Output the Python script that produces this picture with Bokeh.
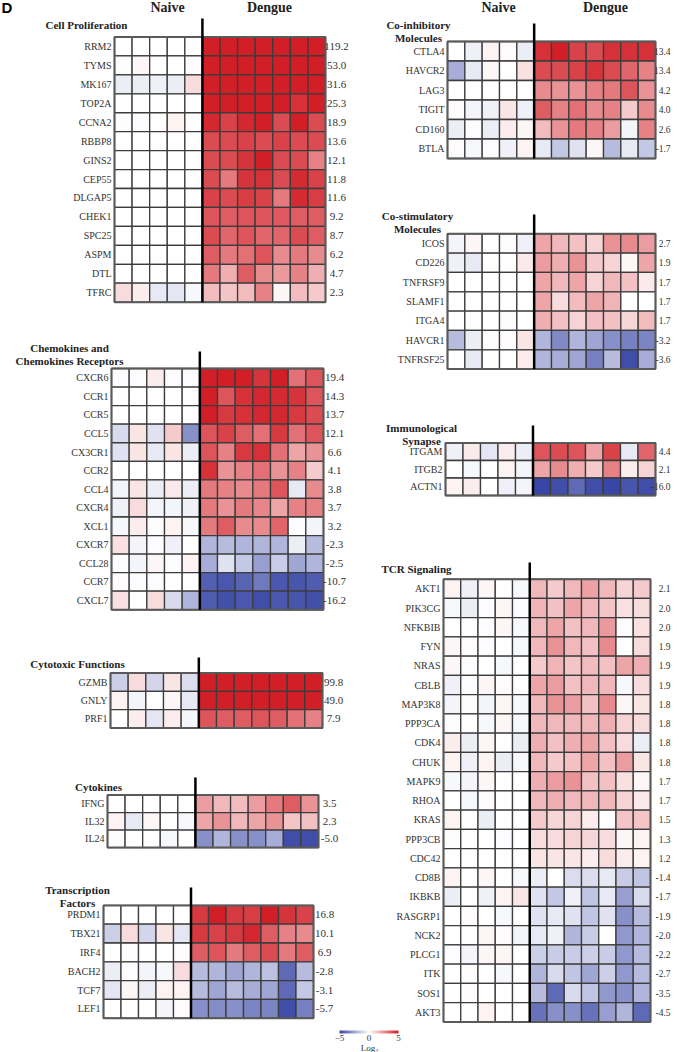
import numpy as np
from bokeh.plotting import figure
from bokeh.models import Range1d, LinearColorMapper, ColorBar, FixedTicker, ColumnDataSource
from bokeh.core.properties import value
from bokeh.embed import file_html
from bokeh.resources import INLINE

# ---------------- DATA ----------------
# each row: 5 naive samples then 7 dengue samples (log2, colour clipped to +-5)
prolif_genes = ["RRM2", "TYMS", "MK167", "TOP2A", "CCNA2", "RBBP8", "GINS2", "CEP55",
                "DLGAP5", "CHEK1", "SPC25", "ASPM", "DTL", "TFRC"]
prolif_fc = [119.2, 53.0, 31.6, 25.3, 18.9, 13.6, 12.1, 11.8, 11.6, 9.2, 8.7, 6.2, 4.7, 2.3]
prolif_vals = [
    [0, 0, 0, 0, 0, 5, 5, 5, 5, 5, 5, 5],
    [-0.1, 0.2, 0, 0, -0.1, 5, 5, 5, 5, 5, 5, 5],
    [-0.5, -0.5, -0.4, -0.5, 0.8, 5, 5, 5, 5, 5, 5, 5],
    [0, 0, 0, 0, 0, 5, 5, 5, 5, 5, 4.6, 5],
    [-0.1, -0.1, 0, 0.3, 0, 4.8, 4.2, 4.8, 5, 4.0, 5, 4.0],
    [0, 0, 0, 0, 0, 4.0, 4.0, 4.2, 4.0, 4.2, 4.0, 4.0],
    [0, 0, 0, 0, 0, 4.0, 4.0, 4.5, 5, 4.0, 4.0, 2.8],
    [0, 0, 0, 0, 0, 4.0, 3.0, 4.5, 4.6, 4.0, 4.7, 4.2],
    [0, 0, 0, 0, 0, 4.2, 4.0, 4.3, 4.2, 3.0, 4.7, 4.3],
    [0, 0, 0, 0, 0, 3.8, 3.6, 3.8, 3.8, 3.7, 3.6, 3.6],
    [0, 0, 0, 0, 0, 4.0, 3.4, 3.8, 3.4, 3.4, 4.0, 3.6],
    [0, 0, 0, 0, 0, 3.6, 3.0, 3.2, 3.8, 2.6, 3.0, 2.6],
    [0, 0, 0, 0, 0, 3.0, 1.8, 3.6, 2.6, 2.3, 2.8, 1.8],
    [0.8, 0.4, -0.6, -0.7, -0.2, 1.5, 1.3, 1.5, 2.8, 0.2, 1.5, 1.2],
]

chemo_genes = ["CXCR6", "CCR1", "CCR5", "CCL5", "CX3CR1", "CCR2", "CCL4", "CXCR4", "XCL1",
               "CXCR7", "CCL28", "CCR7", "CXCL7"]
chemo_fc = [19.4, 14.3, 13.7, 12.1, 6.6, 4.1, 3.8, 3.7, 3.2, -2.3, -2.5, -10.7, -16.2]
chemo_vals = [
    [-0.1, -0.1, 0.4, -0.1, -0.1, 5, 5, 5, 4.5, 5, 3.2, 3.8],
    [0, 0, 0, 0, 0, 5, 3.8, 4.6, 4.8, 4.7, 4.5, 3.8],
    [0, 0, 0, 0, 0, 5, 4.4, 4.6, 4.8, 4.8, 4.4, 4.0],
    [-1.0, 0.6, -0.8, 1.2, -3.0, 3.8, 4.2, 3.6, 3.2, 4.4, 3.2, 3.8],
    [-0.8, 0.6, -0.6, 0.6, -0.5, 3.8, 2.8, 4.4, 4.6, 3.2, 2.0, 2.4],
    [0, 0, 0, 0, 0, 4.6, 2.4, 2.8, 3.2, 2.4, 2.8, 1.2],
    [-0.3, 0.6, -0.5, 0.5, -0.5, 3.0, 2.8, 2.6, 3.0, 3.8, -0.6, 2.6],
    [-0.4, 0.8, -0.3, -0.3, -0.4, 3.0, 2.4, 3.0, 2.7, 2.0, 2.8, 2.8],
    [-0.2, 0.4, -0.1, 0.3, -0.2, 3.0, 3.6, 2.6, 2.6, 3.4, -0.1, -0.3],
    [0.7, -0.3, -0.1, -0.4, 0, -2.0, -1.8, -2.0, -2.0, -2.0, -0.5, -1.8],
    [-0.1, -0.3, 0.2, -0.1, 0.3, -2.2, -0.8, -1.5, -2.6, -1.4, -2.4, -2.0],
    [0.1, -0.1, -0.1, 0, 0, -4.3, -4.5, -4.2, -3.6, -4.5, -4.6, -4.4],
    [0.7, 0, 0.8, -1.0, -2.0, -4.4, -4.7, -4.5, -4.8, -4.5, -4.6, -4.7],
]

cyto_genes = ["GZMB", "GNLY", "PRF1"]
cyto_fc = [99.8, 49.0, 7.9]
cyto_vals = [
    [-1.3, 0.8, -1.1, 0.6, -0.9, 5, 5, 5, 5, 5, 5, 5],
    [0.3, -0.3, 0, 0.2, -0.6, 5, 5, 5, 5, 5, 5, 5],
    [0, 0.4, -0.7, 0.4, -0.3, 3.8, 3.6, 3.6, 3.8, 3.6, 3.2, 2.8],
]

cytok_genes = ["IFNG", "IL32", "IL24"]
cytok_fc = [3.5, 2.3, -5.0]
cytok_vals = [
    [0, 0, 0, 0, 0, 2.2, 1.6, 1.5, 2.2, 3.0, 3.6, 2.4],
    [0.3, -0.6, 0.2, 0, -0.2, 2.0, 2.4, 1.6, 2.0, 2.4, 1.3, 1.4],
    [0.1, 0, 0, -0.2, 0, -3.0, -2.0, -3.0, -3.0, -2.2, -4.8, -4.8],
]

tf_genes = ["PRDM1", "TBX21", "IRF4", "BACH2", "TCF7", "LEF1"]
tf_fc = [16.8, 10.1, 6.9, -2.8, -3.1, -5.7]
tf_vals = [
    [0, 0, 0, 0, 0, 4.4, 5, 4.4, 4.3, 5, 4.5, 4.2],
    [-1.3, 0.8, -1.1, 0.6, -0.7, 4.4, 4.2, 4.4, 4.8, 3.6, 2.8, 2.6],
    [0, 0.1, 0, 0, 0.1, 3.6, 3.8, 3.0, 3.6, 4.0, 3.0, 3.6],
    [-0.5, -0.1, -0.3, -0.2, 0.8, -1.8, -2.0, -2.4, -2.0, -1.7, -4.0, -1.8],
    [-0.7, 0.2, -0.5, 0.3, 0.3, -1.8, -2.4, -1.8, -2.2, -2.4, -4.0, -1.5],
    [0, 0, 0, -0.3, 0.1, -3.0, -3.1, -3.0, -3.3, -3.3, -4.8, -3.4],
]

coinh_genes = ["CTLA4", "HAVCR2", "LAG3", "TIGIT", "CD160", "BTLA"]
coinh_fc = [13.4, 13.4, 4.2, 4.0, 2.6, -1.7]
coinh_vals = [
    [0, -0.4, 0.3, 0.1, -0.5, 4.6, 5, 4.2, 4.0, 4.6, 4.6, 4.6],
    [-2.2, -0.6, 0.2, 0, 0.7, 4.0, 4.0, 4.2, 4.5, 4.0, 3.4, 2.8],
    [0, 0, 0, 0, 0, 2.6, 2.4, 2.4, 2.8, 3.0, 3.8, 2.4],
    [0.1, -0.3, -0.4, 0.6, -0.4, 3.6, 2.8, 3.2, 2.6, 2.8, 1.2, 2.6],
    [-0.5, -0.1, -0.5, 0.4, 0.2, 1.5, 2.4, 3.0, 2.8, 2.2, -0.3, 2.8],
    [0.1, -0.2, -0.1, -0.4, 0.3, -0.6, -1.5, -0.8, 0.2, -1.8, -0.6, -1.5],
]

costim_genes = ["ICOS", "CD226", "TNFRSF9", "SLAMF1", "ITGA4", "HAVCR1", "TNFRSF25"]
costim_fc = [2.7, 1.9, 1.7, 1.7, 1.7, -3.2, -3.6]
costim_vals = [
    [-0.3, 0.2, 0, 0.1, -0.4, 2.0, 1.6, 1.4, 1.0, 2.4, 2.6, 2.2],
    [-0.4, -0.6, 0, 0, 0.5, 2.2, 1.8, 2.4, 1.2, 1.0, 0.2, 2.0],
    [0, 0, 0, 0, 0, 2.0, 1.6, 2.0, 1.0, 1.6, 1.4, 0.5],
    [0, 0, 0, 0, 0, 2.0, 0.8, 1.5, 2.0, 1.7, 0, 0],
    [0, 0, 0, -0.1, 0, 1.8, 1.4, 1.0, 1.4, 1.4, 0.9, 1.5],
    [-1.8, -0.5, 0.1, 0.1, 0.6, -2.0, -3.2, -2.0, -2.4, -3.0, -3.4, -3.3],
    [0, -0.6, 0, 0, 0.4, -2.0, -2.2, -2.4, -3.4, -1.8, -4.8, -2.2],
]

syn_genes = ["ITGAM", "ITGB2", "ACTN1"]
syn_fc = [4.4, 2.1, -16.0]
syn_vals = [
    [-0.4, 0.5, -0.7, 0.4, -0.5, 3.8, 4.0, 3.8, 2.0, 4.2, -0.6, 3.4],
    [0, -0.2, 0, 0.3, -0.3, 2.0, 2.6, 1.8, 1.2, 2.8, 0.4, 1.0],
    [0.3, 0.4, 0, -0.4, -0.3, -5.0, -4.8, -4.0, -4.8, -5.0, -4.6, -4.8],
]

tcr_genes = ["AKT1", "PIK3CG", "NFKBIB", "FYN", "NRAS", "CBLB", "MAP3K8", "PPP3CA", "CDK4",
             "CHUK", "MAPK9", "RHOA", "KRAS", "PPP3CB", "CDC42", "CD8B", "IKBKB", "RASGRP1",
             "NCK2", "PLCG1", "ITK", "SOS1", "AKT3"]
tcr_fc = [2.1, 2.0, 2.0, 1.9, 1.9, 1.9, 1.8, 1.8, 1.8, 1.8, 1.7, 1.7, 1.5, 1.3, 1.2,
          -1.4, -1.7, -1.9, -2.0, -2.2, -2.7, -3.5, -4.5]
tcr_vals = [
    [0.3, -0.4, 0.2, 0, -0.2, 1.6, 1.2, 1.6, 2.1, 1.6, 1.0, 1.2],
    [-0.2, -0.5, -0.1, 0.2, -0.1, 1.7, 1.4, 2.0, 1.6, 1.3, 0.7, 0.8],
    [0, 0, -0.1, 0.2, -0.2, 1.6, 2.0, 1.4, 1.6, 2.3, -0.1, 0.7],
    [0.2, 0.1, -0.1, 0, -0.2, 1.6, 2.4, 1.6, 1.4, 2.6, 0, 0.8],
    [0.2, -0.1, 0, -0.2, 0, 1.2, 1.7, 1.3, 1.5, 1.4, 2.0, 1.8],
    [-0.4, -0.1, 0.2, 0.1, 0, 2.0, 2.2, 1.4, 1.6, 1.6, -0.2, 0.8],
    [-0.3, 0.1, -0.3, 0.2, -0.2, 1.6, 2.4, 2.2, 1.4, 2.6, 0.2, 0.6],
    [0.1, 0, -0.2, 0.2, -0.2, 1.6, 1.6, 1.6, 1.6, 1.8, 1.0, 0.8],
    [0.4, -0.5, 0.2, 0, -0.5, 1.8, 1.4, 1.8, 2.0, 1.4, 0.8, -0.5],
    [0.3, -0.4, 0.3, -0.5, -0.2, 1.6, 1.2, 1.4, 2.0, 1.4, 2.2, 0.6],
    [-0.2, -0.3, 0.2, 0, 0, 1.8, 2.2, 2.4, 1.4, 1.4, 0.7, 0.2],
    [0, -0.2, 0.1, 0, 0, 1.6, 1.8, 1.6, 1.6, 1.6, 1.0, 0.5],
    [0.3, 0, -0.5, 0, 0, 1.2, 0.9, 1.0, 0.4, 0, 1.3, 1.3],
    [0.1, 0, 0, -0.1, 0, 0.8, 0.8, 1.0, 0.9, 0.8, 0.2, 0.3],
    [0, 0, 0, 0, 0, 0.6, 0.6, 0.6, 0.4, 0.8, 0.4, 0.3],
    [0.3, 0, 0.2, 0, -0.2, -0.5, 0, -0.9, -0.9, -0.6, -1.4, -1.6],
    [-0.5, 0, -0.4, 0.3, 0.6, -0.8, -1.5, -0.4, -1.6, -0.6, -2.6, -1.0],
    [0, 0.1, 0, -0.2, 0, -0.8, -0.6, -0.8, -1.6, -0.8, -3.0, -1.8],
    [0, 0, 0.2, 0.1, -0.3, -0.6, -0.4, -2.0, -1.4, 0, -2.8, -2.0],
    [-0.1, -0.3, 0.2, 0.2, 0, -1.3, -1.4, -1.4, -1.3, -1.4, -2.8, -1.8],
    [0, 0.1, 0, -0.2, 0, -2.0, -1.0, -1.6, -2.4, -1.3, -2.8, -1.8],
    [0, 0.1, 0, 0, 0, -1.8, -4.0, -1.0, -1.6, -2.8, -3.0, -2.0],
    [0, 0, 0.3, 0, 0, -3.8, -3.0, -3.0, -3.8, -2.6, -2.0, -4.0],
]

group_labels = ["Naive", "Dengue"]
colorbar_ticks = [-5, 0, 5]

# ---------------- LAYOUT (page-pixel positions) ----------------
panels = [
    # title lines, genes, fc, vals, x0, x1, y0, row_h, divider top, title centre x, title first y, column
    (["Cell Proliferation"], prolif_genes, prolif_fc, prolif_vals, 114, 325, 36.5, 18.94, 18, 86, 24, "L"),
    (["Chemokines and", "Chemokines Receptors"], chemo_genes, chemo_fc, chemo_vals, 111, 323, 368, 18.56, 351, 69, 347, "L"),
    (["Cytotoxic Functions"], cyto_genes, cyto_fc, cyto_vals, 110, 322, 672.5, 18.3, 657, 77, 663, "L"),
    (["Cytokines"], cytok_genes, cytok_fc, cytok_vals, 107, 318, 794.6, 17.5, 777, 98, 786, "L"),
    (["Transcription", "Factors"], tf_genes, tf_fc, tf_vals, 103, 313, 904.9, 18.8, 887, 77, 889, "L"),
    (["Co-inhibitory", "Molecules"], coinh_genes, coinh_fc, coinh_vals, 447, 655, 41, 19.5, 23, 418, 24, "R"),
    (["Co-stimulatory", "Molecules"], costim_genes, costim_fc, costim_vals, 447, 655, 233.3, 19.33, 214, 417, 215, "R"),
    (["Immunological", "Synapse"], syn_genes, syn_fc, syn_vals, 445, 655, 442.5, 17.5, 425, 421, 427, "R"),
    (["TCR Signaling"], tcr_genes, tcr_fc, tcr_vals, 443, 650, 578.7, 19.25, 562, 416, 568, "R"),
]

W, H = 680, 1052
p = figure(width=W, height=H, x_range=Range1d(0, W), y_range=Range1d(H, 0),
           output_backend="svg", toolbar_location=None, min_border=0)
p.axis.visible = False
p.grid.visible = False
p.outline_line_color = None
p.background_fill_color = "white"


def mix(c1, c2, t):
    return "#%02x%02x%02x" % tuple(int(round(a + (b - a) * t)) for a, b in zip(c1, c2))


blue = (56, 70, 165)
white = (255, 255, 255)
red = (210, 31, 39)
palette = [mix(blue, white, i / 127) for i in range(128)] + [mix(white, red, i / 127) for i in range(128)]
mapper = LinearColorMapper(palette=palette, low=-5, high=5)

SERIF = value("Liberation Serif")
TXT = "#333333"

for (title, genes, fc, vals, x0, x1, y0, rh, dtop, tx, ty, col) in panels:
    n = len(genes)
    arr = np.array(vals, dtype=float)
    ncol = arr.shape[1]
    cw = (x1 - x0) / ncol
    xs, ys, vs = [], [], []
    for r in range(n):
        for c in range(ncol):
            xs.append(x0 + (c + 0.5) * cw)
            ys.append(y0 + (r + 0.5) * rh)
            vs.append(arr[r, c])
    src = ColumnDataSource(dict(x=xs, y=ys, v=vs))
    p.rect(x="x", y="y", width=cw, height=rh, source=src,
           fill_color={"field": "v", "transform": mapper}, line_color="#3c3c3c", line_width=1.3)
    y1 = y0 + n * rh
    # outer frame
    p.rect(x=[(x0 + x1) / 2], y=[(y0 + y1) / 2], width=x1 - x0, height=y1 - y0,
           fill_alpha=0, line_color="#5a5a5a", line_width=2)
    # naive | dengue divider
    dx = x0 + 5 * cw
    p.segment(x0=[dx], y0=[dtop], x1=[dx], y1=[y1], line_color="black", line_width=2.5)
    # gene names
    gy = [y0 + (r + 0.5) * rh for r in range(n)]
    p.text(x=[x0 - 3] * n, y=gy, text=genes, text_align="right", text_baseline="middle",
           text_font=SERIF, text_font_size="10px", text_color=TXT)
    # fold change
    labels = [f"{v:.1f}" for v in fc]
    if col == "L":
        p.text(x=[x1 + 11] * n, y=gy, text=labels, text_align="center",
               text_baseline="middle", text_font=SERIF, text_font_size="11px", text_color=TXT)
    else:
        p.text(x=[670] * n, y=gy, text=labels, text_align="right",
               text_baseline="middle", text_font=SERIF, text_font_size="9.5px", text_color=TXT)
    # title
    p.text(x=[tx] * len(title), y=[ty + 13 * i for i in range(len(title))], text=title,
           text_align="center", text_baseline="middle", text_font=SERIF,
           text_font_style="bold", text_font_size="11px", text_color="#222222")

# column headers
p.text(x=[167, 269, 498, 605], y=[7] * 4, text=group_labels * 2, text_align="center",
       text_baseline="middle", text_font=SERIF, text_font_style="bold",
       text_font_size="14px", text_color="#222222")
p.text(x=[1], y=[7], text=["D"], text_align="left", text_baseline="middle",
       text_font=value("Liberation Sans"), text_font_style="bold", text_font_size="15px",
       text_color="black")

# colour bar
cb = ColorBar(color_mapper=mapper, orientation="horizontal", width=59, height=3,
              location=(339, 9), ticker=FixedTicker(ticks=colorbar_ticks),
              major_label_text_font="Liberation Serif", major_label_text_font_size="9px",
              major_label_text_color=TXT, major_tick_line_color=None, minor_tick_line_color=None,
              bar_line_color=None, border_line_color=None, background_fill_alpha=0,
              padding=0, label_standoff=1)
p.add_layout(cb, "center")
p.text(x=[369], y=[1047], text=["Log₂"], text_align="center", text_baseline="middle",
       text_font=SERIF, text_font_size="9px", text_color=TXT)

open("out.html", "w").write(file_html(p, INLINE))
